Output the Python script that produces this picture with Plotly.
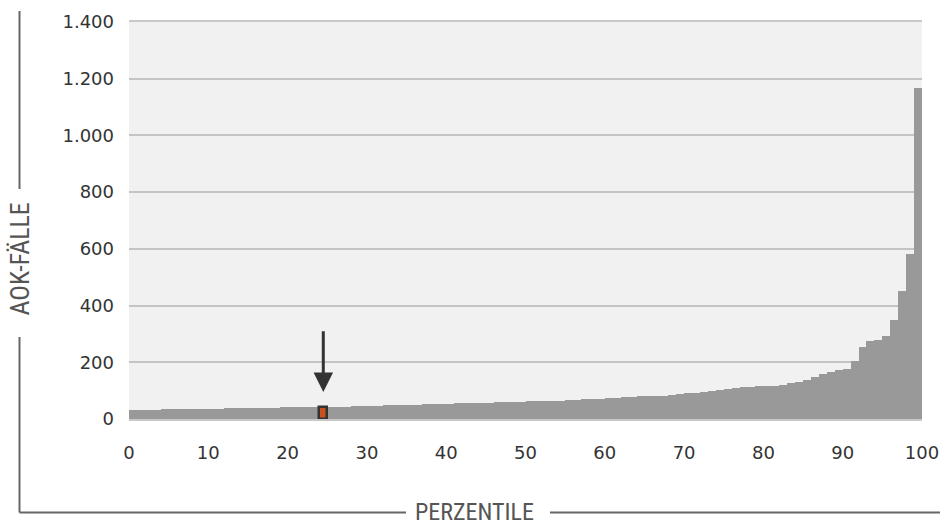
import plotly.graph_objects as go

# ---- data ----
percentile_values = [
    31, 32, 32, 33,
    34, 34, 35, 35, 35, 36, 36, 37,
    38, 38, 38, 39, 39, 39, 40,
    41, 41, 42, 42, 42, 43, 43, 44, 44, 45,
    46, 47, 47, 48,
    49, 50, 50, 51, 52,
    53, 53, 54, 55, 55,
    56, 57, 58,
    59, 60, 60, 61, 62,
    63, 64, 64, 65, 66,
    67,
    70, 71, 72,
    74, 75,
    77, 78,
    80, 81, 81,
    82, 84, 87, 92, 93, 94, 98, 102, 106, 109,
    112, 114, 115, 117, 118, 121, 126, 132, 136, 149,
    157, 164, 174, 176, 203, 253, 275, 279, 292, 348,
    452, 582, 1168,
]
highlight_index = 24
x_ticks = [0, 10, 20, 30, 40, 50, 60, 70, 80, 90, 100]
y_ticks = [0, 200, 400, 600, 800, 1000, 1200, 1400]
y_title = "AOK-FÄLLE"
x_title = "PERZENTILE"

# ---- styling ----
W, H = 941, 524
L, T = 129, 22
R = W - 922
B = H - 419
PW, PH = W - L - R, H - T - B

def px(xp):  # page pixel -> paper
    return (xp - L) / PW

def py(yp):
    return (H - B - yp) / PH

x_centers = [i + 0.5 for i in range(len(percentile_values))]

fig = go.Figure()
fig.add_trace(go.Bar(
    x=x_centers, y=percentile_values, width=1,
    marker=dict(color="#999999", line=dict(width=0)),
    hoverinfo="skip", showlegend=False,
))
fig.add_trace(go.Bar(
    x=[x_centers[highlight_index]], y=[percentile_values[highlight_index]], width=1,
    marker=dict(color="#c8521f", line=dict(width=2.5, color="#333333")),
    hoverinfo="skip", showlegend=False,
))

# arrow pointing at the highlighted bar
fig.add_annotation(
    x=x_centers[highlight_index], y=95, ax=x_centers[highlight_index], ay=315,
    xref="x", yref="y", axref="x", ayref="y",
    showarrow=True, arrowhead=2, arrowsize=1.3, arrowwidth=3, arrowcolor="#333333",
    text="",
)

line_col = "#666666"
shapes = [
    dict(x0=px(19.5), x1=px(19.5), y0=py(11), y1=py(189)),
    dict(x0=px(19.5), x1=px(19.5), y0=py(337), y1=py(512.5)),
    dict(x0=px(19.5), x1=px(406), y0=py(512.5), y1=py(512.5)),
    dict(x0=px(550), x1=px(940), y0=py(512.5), y1=py(512.5)),
]
for s in shapes:
    fig.add_shape(type="line", xref="paper", yref="paper",
                  line=dict(color=line_col, width=2), **s)

fam = "Liberation Sans Narrow, Roboto Condensed, Arial Narrow, sans-serif"
fig.add_annotation(text=x_title, x=px(474), y=py(512), xref="paper", yref="paper",
                   showarrow=False, font=dict(family=fam, size=24, color="#555555"),
                   xanchor="center", yanchor="middle")
fig.add_annotation(text=y_title, x=px(19.5), y=py(259), xref="paper", yref="paper",
                   showarrow=False, font=dict(family=fam, size=26, color="#555555"),
                   textangle=-90, xanchor="center", yanchor="middle")

tick_font = dict(family="DejaVu Sans", size=18, color="#333333")
fig.update_layout(
    width=W, height=H,
    margin=dict(l=L, r=R, t=T, b=B, autoexpand=False),
    paper_bgcolor="white", plot_bgcolor="#f1f1f1",
    barmode="overlay", bargap=0,
    separators=",.",
    xaxis=dict(range=[0, 100], tickvals=x_ticks, showgrid=False, zeroline=False,
               showline=True, linecolor="#c8c8c8", linewidth=2, mirror=True,
               ticks="", tickfont=tick_font, ticklabelstandoff=16, fixedrange=True,
               automargin=False),
    yaxis=dict(range=[0, 1400], tickvals=y_ticks, tickformat=",d",
               showgrid=True, gridcolor="#c4c4c4", gridwidth=1.5, zeroline=False,
               showline=False, ticks="", tickfont=tick_font, ticklabelstandoff=14,
               fixedrange=True, automargin=False),
)

fig.write_html(
    "out.html",
    config={"displayModeBar": False},
    post_script=(
        "document.body.style.margin='0';"
        "document.body.style.overflow='hidden';"
        "document.documentElement.style.overflow='hidden';"
    ),
)
